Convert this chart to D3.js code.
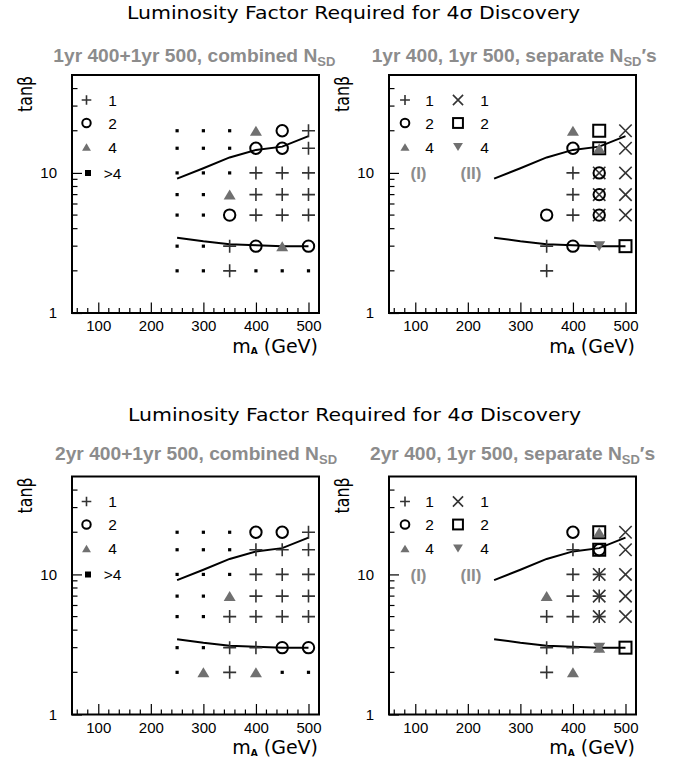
<!DOCTYPE html>
<html><head><meta charset="utf-8">
<script src="https://cdn.jsdelivr.net/npm/d3@7"></script>
<style>body{margin:0;background:#fff}</style>
</head><body>
<svg id="chart" width="681" height="762"></svg>
<script>
// Grid of (m_A, tanβ) points and the two contour curves
const massPoints = [250, 300, 350, 400, 450, 500];
const tanBetaRows = [20, 15, 10, 7, 5, 3, 2];
const upperContour = [9.1, 10.8, 12.9, 14.6, 15.4, 18.3];
const lowerContour = [3.45, 3.25, 3.1, 3.05, 3.0, 3.0];

// Luminosity factor per grid point: 1, 2, 4, 8 (= ">4"), 0 = nothing drawn
// rows follow tanBetaRows, columns follow massPoints
const combined1yr = [
  [8, 8, 8, 4, 2, 1],
  [8, 8, 8, 2, 2, 1],
  [8, 8, 8, 1, 1, 1],
  [8, 8, 4, 1, 1, 1],
  [8, 8, 2, 1, 1, 1],
  [8, 8, 1, 2, 4, 2],
  [8, 8, 1, 8, 8, 8]
];
const combined2yr = [
  [8, 8, 8, 2, 2, 1],
  [8, 8, 8, 1, 1, 1],
  [8, 8, 8, 1, 1, 1],
  [8, 8, 4, 1, 1, 1],
  [8, 8, 1, 1, 1, 1],
  [8, 8, 1, 1, 2, 2],
  [8, 4, 1, 4, 8, 8]
];
// separate N_SD's: (I) = 400 GeV running, (II) = 500 GeV running
const separate1yrI = [
  [0, 0, 0, 4, 0, 0],
  [0, 0, 0, 2, 4, 0],
  [0, 0, 0, 1, 2, 0],
  [0, 0, 0, 1, 2, 0],
  [0, 0, 2, 1, 2, 0],
  [0, 0, 1, 2, 0, 0],
  [0, 0, 1, 0, 0, 0]
];
const separate1yrII = [
  [0, 0, 0, 0, 2, 1],
  [0, 0, 0, 0, 2, 1],
  [0, 0, 0, 0, 1, 1],
  [0, 0, 0, 0, 1, 1],
  [0, 0, 0, 0, 1, 1],
  [0, 0, 0, 0, 4, 2],
  [0, 0, 0, 0, 0, 0]
];
const separate2yrI = [
  [0, 0, 0, 2, 4, 0],
  [0, 0, 0, 1, 2, 0],
  [0, 0, 0, 1, 1, 0],
  [0, 0, 4, 1, 1, 0],
  [0, 0, 1, 1, 1, 0],
  [0, 0, 1, 1, 4, 0],
  [0, 0, 1, 4, 0, 0]
];
const separate2yrII = [
  [0, 0, 0, 0, 2, 1],
  [0, 0, 0, 0, 2, 1],
  [0, 0, 0, 0, 1, 1],
  [0, 0, 0, 0, 1, 1],
  [0, 0, 0, 0, 1, 1],
  [0, 0, 0, 0, 4, 2],
  [0, 0, 0, 0, 0, 0]
];

const xTickValues = [100, 200, 300, 400, 500];
const yTickValues = [1, 10];
const yMinorValues = [2, 3, 4, 5, 6, 7, 8, 9, 20, 30, 40];
const combinedLegend = ["1", "2", "4", ">4"];
const separateLegend = ["1", "2", "4"];
const subtitles = [
  ["1yr 400+1yr 500, combined N", ""],
  ["1yr 400, 1yr 500, separate N", "\u2032s"],
  ["2yr 400+1yr 500, combined N", ""],
  ["2yr 400, 1yr 500, separate N", "\u2032s"]
];
const mainTitle = "Luminosity Factor Required for 4\u03c3 Discovery";

const svg = d3.select("#chart");
const FW = 247, FH = 238;
const x = d3.scaleLinear().domain([50, 520]).range([0, FW]);
const y = d3.scaleLog().domain([1, 50]).range([FH, 0]);

const GREY_TEXT = "#8c8c8c";
const TRI = "#707070";
const STROKE_THIN = "#333";

function marker(g, type, cx, cy, s) {
  if (type === "plus") {
    const h = 6.5 * s;
    g.append("path").attr("d", `M${cx - h},${cy}H${cx + h}M${cx},${cy - h}V${cy + h}`)
      .attr("stroke", STROKE_THIN).attr("stroke-width", 1.6).attr("fill", "none");
  } else if (type === "cross") {
    const h = 6.2 * s;
    g.append("path").attr("d", `M${cx - h},${cy - h}L${cx + h},${cy + h}M${cx + h},${cy - h}L${cx - h},${cy + h}`)
      .attr("stroke", STROKE_THIN).attr("stroke-width", 1.6).attr("fill", "none");
  } else if (type === "circle") {
    g.append("circle").attr("cx", cx).attr("cy", cy).attr("r", 5.7 * s)
      .attr("stroke", "#000").attr("stroke-width", 2).attr("fill", "none");
  } else if (type === "square") {
    const h = 6 * s;
    g.append("rect").attr("x", cx - h).attr("y", cy - h).attr("width", 2 * h).attr("height", 2 * h)
      .attr("stroke", "#000").attr("stroke-width", 2).attr("fill", "none");
  } else if (type === "tri") {
    const w = 6 * s, h = 5 * s;
    g.append("path").attr("d", `M${cx},${cy - h}L${cx + w},${cy + h}L${cx - w},${cy + h}Z`).attr("fill", TRI);
  } else if (type === "tridown") {
    const w = 6 * s, h = 5 * s;
    g.append("path").attr("d", `M${cx},${cy + h}L${cx + w},${cy - h}L${cx - w},${cy - h}Z`).attr("fill", TRI);
  } else if (type === "dot") {
    const d = 3.2 * s;
    g.append("rect").attr("x", cx - d / 2).attr("y", cy - d / 2).attr("width", d).attr("height", d).attr("fill", "#000");
  }
}

const combinedSymbol = {1: "plus", 2: "circle", 4: "tri", 8: "dot"};
const runISymbol = {1: "plus", 2: "circle", 4: "tri"};
const runIISymbol = {1: "cross", 2: "square", 4: "tridown"};

function drawGrid(g, grid, symbols) {
  grid.forEach((row, i) => row.forEach((v, j) => {
    if (v && symbols[v]) marker(g, symbols[v], x(massPoints[j]), y(tanBetaRows[i]), 1);
  }));
}

function drawPanel(left, top, sub, subX, subY, kind, gridA, gridB) {
  const g = svg.append("g").attr("transform", `translate(${left},${top})`);

  // subtitle
  const st = svg.append("text").attr("x", subX).attr("y", subY)
    .attr("font-family", "Liberation Sans, Arial, sans-serif").attr("font-weight", "bold")
    .attr("font-size", 19.2).attr("fill", GREY_TEXT);
  st.append("tspan").text(sub[0]);
  st.append("tspan").attr("font-size", 13).attr("dy", 4).text("SD");
  if (sub[1]) st.append("tspan").attr("dy", -4).text(sub[1]);

  // minor ticks
  const minorX = d3.range(60, 521, 20).filter(v => v % 100 !== 0);
  g.append("g").selectAll("line").data(minorX).join("line")
    .attr("x1", d => x(d)).attr("x2", d => x(d)).attr("y1", FH).attr("y2", FH - 5)
    .attr("stroke", "#000").attr("stroke-width", 1.2);
  g.append("g").selectAll("line").data(yMinorValues).join("line")
    .attr("y1", d => y(d)).attr("y2", d => y(d)).attr("x1", 0).attr("x2", 5.5)
    .attr("stroke", "#000").attr("stroke-width", 1.2);

  // major ticks and labels
  const ax = g.append("g").attr("transform", `translate(0,${FH})`)
    .call(d3.axisBottom(x).tickValues(xTickValues).tickSize(-10.5).tickPadding(7.5).tickFormat(d3.format("d")));
  const ay = g.append("g")
    .call(d3.axisLeft(y).tickValues(yTickValues).tickSize(-10).tickPadding(15).tickFormat(d3.format("d")));
  [ax, ay].forEach(a => {
    a.select(".domain").remove();
    a.attr("font-family", "Liberation Sans, Arial, sans-serif").attr("font-size", 15);
    a.selectAll("line").attr("stroke", "#000").attr("stroke-width", 1.2);
    a.selectAll("text").attr("fill", "#000");
  });

  // contour curves
  const line = d3.line().x((d, i) => x(massPoints[i])).y(d => y(d));
  [upperContour, lowerContour].forEach(c => g.append("path").attr("d", line(c))
    .attr("fill", "none").attr("stroke", "#000").attr("stroke-width", 2));

  // grid symbols
  if (kind === "combined") {
    drawGrid(g, gridA, combinedSymbol);
  } else {
    drawGrid(g, gridB, runIISymbol);
    drawGrid(g, gridA, runISymbol);
  }

  // legend
  const legY = [25, 48, 72, 98];
  const lf = "Liberation Sans, Arial, sans-serif";
  if (kind === "combined") {
    const syms = ["plus", "circle", "tri", "dot"];
    combinedLegend.forEach((lab, i) => {
      if (syms[i] === "dot") {
        g.append("rect").attr("x", 16 - 3).attr("y", legY[i] - 3).attr("width", 6).attr("height", 6).attr("fill", "#000");
      } else marker(g, syms[i], 14.5, legY[i], 0.74);
      g.append("text").attr("x", 40.5).attr("y", legY[i] + 5.5).attr("text-anchor", "middle")
        .attr("font-family", lf).attr("font-size", 15.5).text(lab);
    });
  } else {
    const symsI = ["plus", "circle", "tri"], symsII = ["cross", "square", "tridown"];
    separateLegend.forEach((lab, i) => {
      marker(g, symsI[i], 16, legY[i], 0.76);
      g.append("text").attr("x", 40.5).attr("y", legY[i] + 5.5).attr("text-anchor", "middle")
        .attr("font-family", lf).attr("font-size", 15.5).text(lab);
      marker(g, symsII[i], 69, legY[i], 0.82);
      g.append("text").attr("x", 95.5).attr("y", legY[i] + 5.5).attr("text-anchor", "middle")
        .attr("font-family", lf).attr("font-size", 15.5).text(lab);
    });
    [["(I)", 29.5], ["(II)", 82]].forEach(([t, px]) =>
      g.append("text").attr("x", px).attr("y", legY[3] + 6).attr("text-anchor", "middle")
        .attr("font-family", lf).attr("font-weight", "bold").attr("font-size", 17)
        .attr("fill", GREY_TEXT).text(t));
  }

  // frame
  g.append("rect").attr("width", FW).attr("height", FH)
    .attr("fill", "none").attr("stroke", "#000").attr("stroke-width", 2);

  // axis titles
  const xt = g.append("text").attr("x", FW - 1).attr("y", FH + 39.5).attr("text-anchor", "end")
    .attr("font-family", "DejaVu Sans, sans-serif").attr("font-size", 19);
  xt.append("tspan").text("m");
  xt.append("tspan").attr("font-size", 9).attr("font-weight", "bold").attr("dy", 1.5).text("A");
  xt.append("tspan").attr("dy", -1.5).text(" (GeV)");

  g.append("text").attr("transform", `translate(${-40.5},${19}) rotate(-90)`)
    .attr("text-anchor", "middle").attr("font-family", "DejaVu Sans, sans-serif")
    .attr("font-size", 19.5).attr("textLength", 36).attr("lengthAdjust", "spacingAndGlyphs")
    .text("tan\u03b2");
}

// titles
[[127, 18.5], [128, 420.7]].forEach(([tx, ty]) =>
  svg.append("text").attr("x", tx).attr("y", ty)
    .attr("font-family", "DejaVu Sans, sans-serif").attr("font-size", 17.5)
    .attr("textLength", 453).attr("lengthAdjust", "spacingAndGlyphs").text(mainTitle));

drawPanel(72, 75, subtitles[0], 53.3, 61.8, "combined", combined1yr);
drawPanel(389, 75, subtitles[1], 371.7, 61.8, "separate", separate1yrI, separate1yrII);
drawPanel(72, 476.5, subtitles[2], 55, 460.3, "combined", combined2yr);
drawPanel(389, 476.5, subtitles[3], 370, 460.3, "separate", separate2yrI, separate2yrII);
</script>
</body></html>
